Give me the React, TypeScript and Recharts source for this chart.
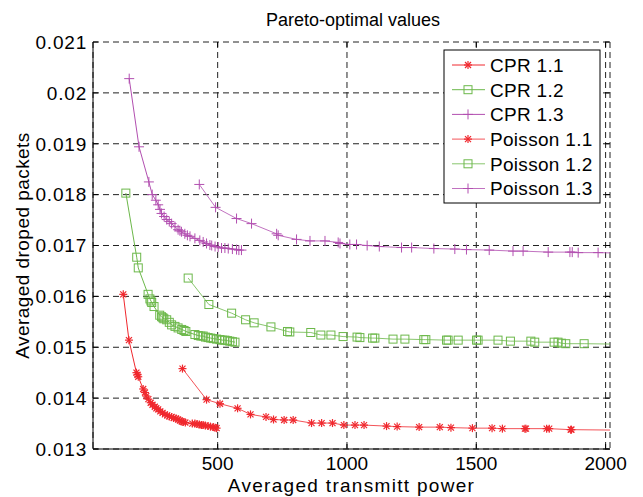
import React from "react"
import { LineChart, Line, XAxis, YAxis, CartesianGrid, Label } from "recharts"

// values
const cpr11X = [135, 157, 186, 190, 193, 212, 219, 224, 232, 241, 248, 257, 263, 270, 278, 287, 296, 305, 313, 322, 330, 339, 347, 354, 361, 367, 375, 402, 412, 420, 429, 437, 444, 452, 463, 472, 483, 490, 496]
const cpr11Y = [0.01604, 0.01514, 0.0145, 0.01446, 0.01442, 0.01418, 0.01411, 0.01404, 0.01398, 0.01391, 0.01387, 0.01383, 0.0138, 0.01378, 0.01374, 0.01371, 0.01368, 0.01366, 0.01364, 0.01363, 0.01361, 0.0136, 0.01358, 0.01356, 0.01354, 0.01353, 0.01352, 0.0135, 0.0135, 0.01349, 0.01348, 0.01347, 0.01347, 0.01346, 0.01345, 0.01344, 0.01343, 0.01342, 0.01341]

const cpr12X = [145, 187, 193, 231, 238, 242, 245, 254, 276, 283, 288, 292, 303, 313, 322, 335, 347, 361, 370, 377, 412, 425, 435, 444, 453, 463, 473, 483, 496, 509, 518, 528, 538, 547, 557, 567]
const cpr12Y = [0.01803, 0.01677, 0.01656, 0.01604, 0.01595, 0.01591, 0.01588, 0.0158, 0.01563, 0.0156, 0.01558, 0.01556, 0.01554, 0.01549, 0.01544, 0.01541, 0.01538, 0.01535, 0.01533, 0.01531, 0.01525, 0.01523, 0.01522, 0.01522, 0.0152, 0.01519, 0.01518, 0.01517, 0.01516, 0.01515, 0.01514, 0.01514, 0.01513, 0.01512, 0.01511, 0.0151]

const cpr13X = [158, 196, 234, 247, 261, 270, 277, 283, 293, 303, 313, 322, 335, 347, 354, 360, 373, 383, 393, 412, 431, 444, 457, 470, 477, 490, 502, 515, 528, 541, 557, 573, 582, 592]
const cpr13Y = [0.02028, 0.01894, 0.01825, 0.018, 0.01789, 0.0178, 0.01771, 0.01763, 0.01757, 0.01751, 0.01747, 0.01743, 0.01737, 0.01731, 0.01729, 0.01727, 0.01723, 0.0172, 0.01718, 0.01714, 0.0171, 0.01707, 0.01704, 0.01701, 0.017, 0.01698, 0.01697, 0.01695, 0.01695, 0.01694, 0.01693, 0.01692, 0.01691, 0.01691]

const poi11X = [364, 457, 509, 577, 627, 687, 716, 757, 792, 863, 902, 944, 988, 1031, 1066, 1153, 1194, 1279, 1359, 1402, 1485, 1561, 1601, 1688, 1692, 1772, 1782, 1865, 1868, 2060]
const poi11Y = [0.01458, 0.01397, 0.01389, 0.0138, 0.01368, 0.01363, 0.01358, 0.01357, 0.01357, 0.01351, 0.01351, 0.01351, 0.01347, 0.01347, 0.01347, 0.01345, 0.01344, 0.01343, 0.01343, 0.01342, 0.01341, 0.01341, 0.0134, 0.0134, 0.0134, 0.0134, 0.0134, 0.01338, 0.01338, 0.01337]

const poi12X = [386, 466, 554, 608, 641, 706, 770, 779, 860, 899, 938, 985, 1039, 1050, 1099, 1108, 1178, 1224, 1297, 1305, 1385, 1391, 1430, 1501, 1507, 1584, 1632, 1711, 1726, 1801, 1816, 1829, 1846, 1917, 2060]
const poi12Y = [0.01636, 0.01584, 0.01567, 0.01554, 0.01548, 0.0154, 0.01531, 0.0153, 0.01529, 0.01524, 0.01524, 0.01521, 0.0152, 0.01519, 0.01518, 0.01518, 0.01516, 0.01516, 0.01515, 0.01515, 0.01514, 0.01514, 0.01514, 0.01514, 0.01514, 0.01514, 0.01512, 0.01512, 0.0151, 0.0151, 0.0151, 0.01508, 0.01507, 0.01507, 0.01506]

const poi13X = [429, 492, 573, 631, 728, 734, 805, 857, 915, 966, 973, 1011, 1037, 1078, 1125, 1211, 1250, 1336, 1417, 1462, 1550, 1642, 1681, 1778, 1862, 1871, 1894, 1971, 2060]
const poi13Y = [0.0182, 0.01775, 0.01753, 0.01743, 0.01723, 0.0172, 0.01712, 0.01709, 0.01709, 0.01706, 0.01704, 0.01702, 0.01702, 0.017, 0.01698, 0.01696, 0.01696, 0.01694, 0.01693, 0.01692, 0.01691, 0.01689, 0.01689, 0.01687, 0.01687, 0.01687, 0.01686, 0.01686, 0.01685]

const xTicks = [500, 1000, 1500, 2000]
const yTicks = [0.013, 0.014, 0.015, 0.016, 0.017, 0.018, 0.019, 0.02, 0.021]

const W = 643
const H = 497
const PLOT = { left: 93, right: 610, top: 42, bottom: 449 }
const FONT = "'Liberation Sans', Arial, Helvetica, sans-serif"

const RED = "#f0282e"
const GREEN = "#6cb84a"
const PURPLE = "#b24fb0"

type Shape = "star" | "square" | "plus"

function Marker({ cx, cy, shape, color }: { cx: number; cy: number; shape: Shape; color: string }) {
  if (shape === "square") {
    return <rect x={cx - 4} y={cy - 4} width={8} height={8} fill="none" stroke={color} strokeWidth={1} />
  }
  if (shape === "plus") {
    return (
      <g stroke={color} strokeWidth={1}>
        <line x1={cx - 5} x2={cx + 5} y1={cy} y2={cy} />
        <line x1={cx} x2={cx} y1={cy - 5} y2={cy + 5} />
      </g>
    )
  }
  const d = 3
  return (
    <g stroke={color} strokeWidth={1.2}>
      <line x1={cx - 4} x2={cx + 4} y1={cy} y2={cy} />
      <line x1={cx} x2={cx} y1={cy - 4} y2={cy + 4} />
      <line x1={cx - d} x2={cx + d} y1={cy - d} y2={cy + d} />
      <line x1={cx - d} x2={cx + d} y1={cy + d} y2={cy - d} />
    </g>
  )
}

const toPoints = (xs: number[], ys: number[]) => xs.map((x, i) => ({ x, y: ys[i] }))

const series = [
  { name: "CPR 1.1", data: toPoints(cpr11X, cpr11Y), color: RED, shape: "star" as Shape, opacity: 1 },
  { name: "CPR 1.2", data: toPoints(cpr12X, cpr12Y), color: GREEN, shape: "square" as Shape, opacity: 1 },
  { name: "CPR 1.3", data: toPoints(cpr13X, cpr13Y), color: PURPLE, shape: "plus" as Shape, opacity: 1 },
  { name: "Poisson 1.1", data: toPoints(poi11X, poi11Y), color: RED, shape: "star" as Shape, opacity: 0.8 },
  { name: "Poisson 1.2", data: toPoints(poi12X, poi12Y), color: GREEN, shape: "square" as Shape, opacity: 0.8 },
  { name: "Poisson 1.3", data: toPoints(poi13X, poi13Y), color: PURPLE, shape: "plus" as Shape, opacity: 0.8 },
]

function XTick({ x, y, payload }: any) {
  return (
    <g>
      <line x1={x} x2={x} y1={PLOT.bottom} y2={PLOT.bottom - 5} stroke="#000" />
      <line x1={x} x2={x} y1={PLOT.top} y2={PLOT.top + 5} stroke="#000" />
      <text x={x} y={y} dy="0.71em" textAnchor="middle" fontSize={19} fontFamily={FONT} fill="#000">
        {payload.value}
      </text>
    </g>
  )
}

function YTick({ x, y, payload }: any) {
  return (
    <g>
      <line x1={PLOT.left} x2={PLOT.left + 5} y1={y} y2={y} stroke="#000" />
      <line x1={PLOT.right - 5} x2={PLOT.right} y1={y} y2={y} stroke="#000" />
      <text x={x} y={y} dy="0.36em" textAnchor="end" fontSize={19} letterSpacing={0.8} fontFamily={FONT} fill="#000">
        {String(payload.value)}
      </text>
    </g>
  )
}

function LegendBox() {
  const left = 444
  const top = 50
  const rowH = 24.7
  return (
    <svg width={W} height={H} style={{ position: "absolute", left: 0, top: 0, pointerEvents: "none" }}>
      <text x={353} y={26} textAnchor="middle" fontSize={18} fontFamily={FONT} fill="#000">
        Pareto-optimal values
      </text>
      <rect x={left} y={top} width={156} height={153} fill="#fff" stroke="#000" strokeWidth={1} />
      {series.map((s, i) => {
        const cy = top + 15 + i * rowH
        return (
          <g key={s.name}>
            <line x1={452} x2={485} y1={cy} y2={cy} stroke={s.color} strokeOpacity={s.opacity} />
            <Marker cx={468} cy={cy} shape={s.shape} color={s.color} />
            <text x={490} y={cy} dy="0.36em" fontSize={19} letterSpacing={0.3} fontFamily={FONT} fill="#000">
              {s.name}
            </text>
          </g>
        )
      })}
    </svg>
  )
}

export default function App() {
  return (
    <div style={{ position: "absolute", left: 0, top: 0, width: W, height: H, background: "#fff" }}>
      <LineChart
        width={W}
        height={H}
        margin={{ top: PLOT.top, right: W - PLOT.right, bottom: 0, left: 0 }}
      >
        <CartesianGrid stroke="#222" strokeDasharray="6 4" />
        <XAxis
          type="number"
          dataKey="x"
          domain={[18, 2017]}
          ticks={xTicks}
          allowDataOverflow
          height={H - PLOT.bottom}
          tickSize={0}
          tickMargin={8}
          tick={<XTick />}
          axisLine={{ stroke: "#000" }}
        >
          <Label
            value="Averaged transmitt power"
            position="insideBottom"
            offset={5}
            fontSize={19}
            fontFamily={FONT}
            fill="#000"
            style={{ letterSpacing: 1.3 }}
          />
        </XAxis>
        <XAxis
          xAxisId="top"
          orientation="top"
          type="number"
          dataKey="x"
          domain={[18, 2017]}
          allowDataOverflow
          height={0}
          tick={false}
          tickLine={false}
          axisLine={{ stroke: "#000" }}
        />
        <YAxis
          type="number"
          dataKey="y"
          domain={[0.013, 0.021]}
          ticks={yTicks}
          allowDataOverflow
          width={PLOT.left}
          tickSize={0}
          tickMargin={6}
          tick={<YTick />}
          axisLine={{ stroke: "#000" }}
        >
          <Label
            value="Averaged droped packets"
            angle={-90}
            position="insideLeft"
            offset={22}
            fontSize={19}
            fontFamily={FONT}
            fill="#000"
            style={{ textAnchor: "middle", letterSpacing: 0.45 }}
          />
        </YAxis>
        <YAxis
          yAxisId="right"
          orientation="right"
          type="number"
          domain={[0.013, 0.021]}
          allowDataOverflow
          width={0}
          tick={false}
          tickLine={false}
          axisLine={{ stroke: "#000" }}
        />
        {series.map((s) => (
          <Line
            key={s.name}
            data={s.data}
            dataKey="y"
            name={s.name}
            stroke={s.color}
            strokeOpacity={s.opacity}
            strokeWidth={1}
            isAnimationActive={false}
            activeDot={false}
            dot={(p: any) => <Marker key={`${s.name}-${p.index}`} cx={p.cx} cy={p.cy} shape={s.shape} color={s.color} />}
          />
        ))}
      </LineChart>
      <LegendBox />
    </div>
  )
}
